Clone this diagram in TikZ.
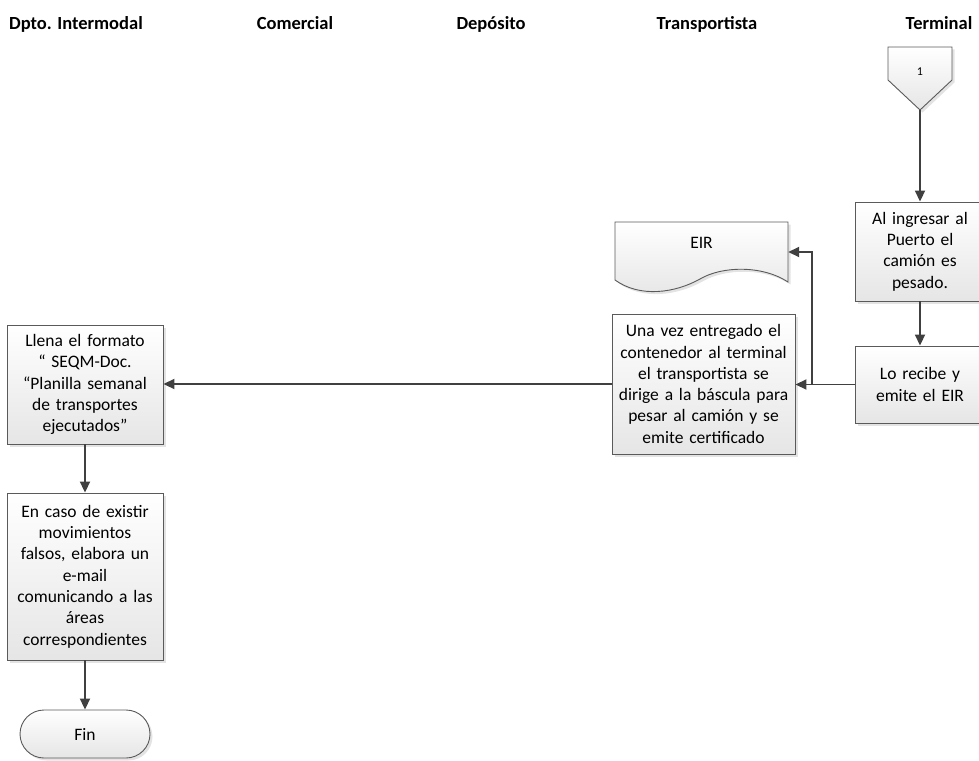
\documentclass[tikz,border=0pt]{standalone}
\usepackage{fontspec}
\setmainfont{Carlito}
\usetikzlibrary{arrows.meta,shadows,calc}

\definecolor{lineclr}{HTML}{404040}
\definecolor{edgeclr}{HTML}{5A5A5A}

\tikzset{
  flowbox/.style={draw=edgeclr, line width=0.9pt, top color=white, bottom color=black!10,
    drop shadow={shadow xshift=2.5pt, shadow yshift=-2.5pt, opacity=0.22},
    align=center, inner xsep=3pt, inner ysep=0pt,
    font=\fontsize{17.5}{21.3}\selectfont},
  header/.style={font=\fontsize{18.5}{22}\selectfont\bfseries, anchor=base, inner sep=0pt},
  conn/.style={draw=lineclr, line width=1.8pt, -{Triangle[length=11pt,width=10pt]}},
  wire/.style={draw=lineclr, line width=1.8pt},
}

\begin{document}
\begin{tikzpicture}[x=1pt, y=-1pt]
  \useasboundingbox (0,0) rectangle (979,760);

  % lane titles
  \node[header, anchor=base west] (h1) at (9,30) {Dpto. Intermodal};
  \node[header] (h2) at (295,30) {Comercial};
  \node[header] (h3) at (491,30) {Depósito};
  \node[header] (h4) at (707,30) {Transportista};
  \node[header] (h5) at (939,30) {Terminal};

  % off-page connector
  \path[draw=edgeclr, line width=0.9pt, top color=white, bottom color=black!10,
    drop shadow={shadow xshift=2.5pt, shadow yshift=-2.5pt, opacity=0.22}]
    (888,47) -- (952,47) -- (952,80) -- (920,110) -- (888,80) -- cycle;
  \node[font=\fontsize{12}{14}\selectfont] (c1) at (920,72) {1};
  \coordinate (c1tip) at (920,110);

  % Terminal lane
  \node[flowbox, text width=124pt, minimum height=99pt] (a) at (920,251.5)
    {Al ingresar al\\Puerto el\\camión es\\pesado.};
  \node[flowbox, text width=124pt, minimum height=77pt] (b) at (920,384.5)
    {Lo recibe y\\emite el EIR};

  % document EIR
  \path[draw=edgeclr, line width=0.9pt, top color=white, bottom color=black!10,
    drop shadow={shadow xshift=2.5pt, shadow yshift=-2.5pt, opacity=0.22}]
    (615,222) -- (788,222) -- (788,282)
    .. controls (762,265) and (722,266) .. (700,279)
    .. controls (675,293) and (640,298) .. (615,280) -- cycle;
  \node[minimum width=173pt, minimum height=60pt, inner sep=0pt] (eir) at (701.5,252) {};
  \node[font=\fontsize{17.5}{21.3}\selectfont] (eirlbl) at (701.5,243) {EIR};

  % Transportista lane
  \node[flowbox, text width=177pt, minimum height=140pt] (c) at (703.5,384)
    {Una vez entregado el\\contenedor al terminal\\el transportista se\\dirige a la báscula para\\pesar al camión y se\\emite certificado};

  % Dpto. Intermodal lane
  \node[flowbox, text width=150pt, minimum height=119pt] (d) at (85,384.5)
    {Llena el formato\\“ SEQM-Doc.\\“Planilla semanal\\de transportes\\ejecutados”};
  \node[flowbox, text width=150pt, minimum height=167pt] (e) at (85,576.5)
    {En caso de existir\\movimientos\\falsos, elabora un\\e-mail\\comunicando a las\\áreas\\correspondientes};
  \node[flowbox, minimum width=130pt, minimum height=48pt, inner sep=0pt,
    rounded corners=24pt] (f) at (85,734) {Fin};

  % connectors
  \draw[conn] (c1tip) -- (a.north);
  \draw[conn] (a.south) -- (b.north);
  \draw[conn] (b.west) -- (b.west -| c.east);
  \coordinate (j) at (812,384.5);
  \draw[wire] (j) |- ($(eir.east)+(12,0)$);
  \draw[conn] ($(eir.east)+(12,0)$) -- (eir.east);
  \draw[conn] (c.west) -- (c.west -| d.east);
  \draw[conn] (d.south) -- (e.north);
  \draw[conn] (e.south) -- (f.north);
\end{tikzpicture}
\end{document}
